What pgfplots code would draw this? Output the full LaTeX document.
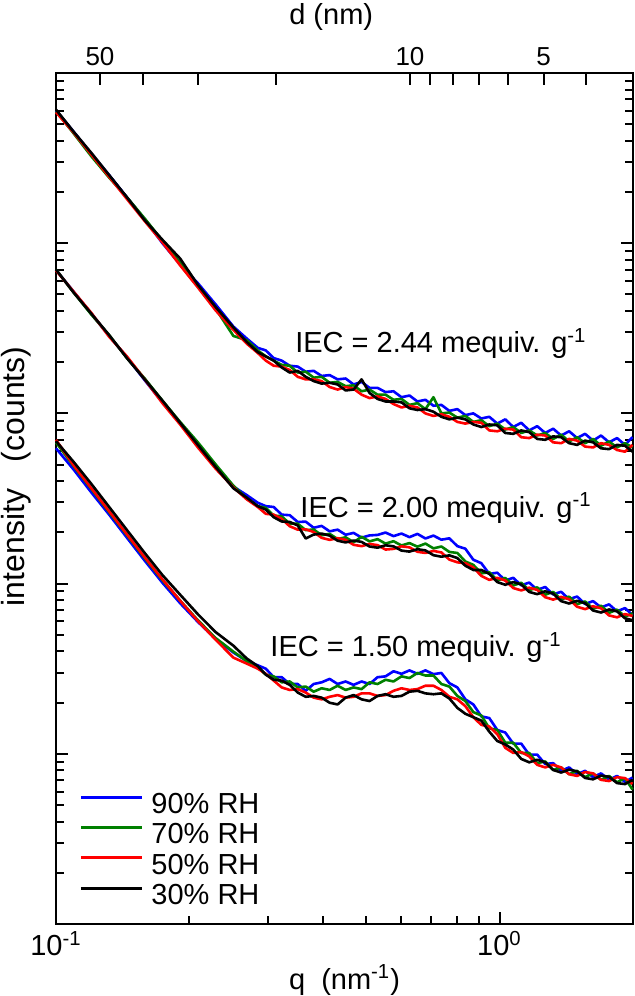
\documentclass[border=0pt]{standalone}
\usepackage{fontspec}
\setmainfont{Liberation Sans}
\usepackage{pgfplots}
\usepackage{pgfplotstable}
\pgfplotsset{compat=1.18}

\definecolor{cb}{RGB}{0,0,255}
\definecolor{cg}{RGB}{0,128,0}
\definecolor{cr}{RGB}{255,0,0}
\newcommand\lf{\fontsize{14.5}{17.4}\selectfont}

% columns: q (nm^-1), log10 intensity for 90/70/50/30 % RH
% IEC = 2.44
\pgfplotstableread{
q b g r k
0.1000 4.780 4.775 4.770 4.785
0.1096 4.655 4.645 4.650 4.655
0.1202 4.525 4.510 4.520 4.530
0.1318 4.400 4.385 4.390 4.400
0.1445 4.270 4.270 4.260 4.270
0.1585 4.140 4.145 4.130 4.135
0.1738 4.000 4.015 4.005 4.020
0.1905 3.875 3.885 3.870 3.910
0.2089 3.765 3.745 3.740 3.755
0.2291 3.640 3.615 3.605 3.625
0.2512 3.510 3.455 3.490 3.505
0.2692 3.440 3.430 3.410 3.420
0.2851 3.385 3.370 3.355 3.360
0.2972 3.370 3.335 3.310 3.335
0.3097 3.325 3.310 3.280 3.310
0.3228 3.310 3.285 3.275 3.270
0.3365 3.280 3.280 3.255 3.240
0.3508 3.275 3.240 3.215 3.250
0.3656 3.245 3.245 3.200 3.215
0.3811 3.250 3.210 3.200 3.190
0.3972 3.220 3.215 3.190 3.175
0.4140 3.225 3.180 3.155 3.180
0.4315 3.200 3.185 3.140 3.170
0.4498 3.205 3.160 3.155 3.135
0.4688 3.170 3.165 3.145 3.140
0.4887 3.185 3.130 3.110 3.200
0.5093 3.150 3.140 3.090 3.120
0.5309 3.150 3.110 3.100 3.085
0.5534 3.125 3.110 3.085 3.070
0.5768 3.130 3.080 3.055 3.070
0.6012 3.095 3.085 3.035 3.065
0.6266 3.105 3.050 3.045 3.030
0.6531 3.070 3.060 3.035 3.020
0.6808 3.080 3.025 3.000 3.025
0.7096 3.045 3.095 2.985 3.010
0.7396 3.050 3.000 2.995 2.980
0.7709 3.015 3.005 2.980 2.965
0.8035 3.025 2.975 2.950 2.975
0.8375 2.990 2.985 2.940 2.965
0.8730 3.000 2.950 2.950 2.935
0.9099 2.970 2.960 2.945 2.920
0.9484 2.980 2.925 2.900 2.935
0.9886 2.940 2.940 2.895 2.930
1.0304 2.965 2.905 2.910 2.885
1.0740 2.920 2.920 2.905 2.880
1.1194 2.945 2.885 2.860 2.900
1.1668 2.900 2.900 2.855 2.890
1.2162 2.925 2.870 2.875 2.850
1.2677 2.885 2.885 2.870 2.845
1.3213 2.910 2.850 2.830 2.865
1.3772 2.870 2.875 2.825 2.860
1.4355 2.895 2.835 2.850 2.825
1.4962 2.855 2.860 2.840 2.815
1.5596 2.880 2.825 2.805 2.840
1.6255 2.840 2.850 2.800 2.830
1.6943 2.870 2.810 2.825 2.795
1.7660 2.830 2.835 2.815 2.790
1.8408 2.855 2.800 2.785 2.815
1.9187 2.815 2.825 2.775 2.810
1.9953 2.860 2.800 2.815 2.775
}\tabA

% IEC = 2.00
\pgfplotstableread{
q b g r k
0.1000 3.843 3.845 3.840 3.845
0.1096 3.715 3.710 3.715 3.710
0.1202 3.585 3.580 3.590 3.585
0.1318 3.455 3.460 3.450 3.460
0.1445 3.330 3.325 3.335 3.325
0.1585 3.195 3.205 3.200 3.200
0.1738 3.065 3.075 3.060 3.075
0.1905 2.945 2.950 2.935 2.945
0.2089 2.815 2.830 2.800 2.815
0.2291 2.690 2.700 2.675 2.685
0.2512 2.570 2.575 2.565 2.560
0.2692 2.520 2.500 2.495 2.505
0.2851 2.475 2.455 2.450 2.455
0.2972 2.455 2.445 2.410 2.435
0.3097 2.450 2.400 2.405 2.390
0.3228 2.405 2.395 2.380 2.365
0.3365 2.402 2.352 2.337 2.362
0.3508 2.362 2.352 2.317 2.342
0.3656 2.364 2.314 2.319 2.265
0.3811 2.328 2.318 2.303 2.288
0.3972 2.339 2.284 2.269 2.294
0.4140 2.307 2.292 2.257 2.282
0.4315 2.317 2.262 2.267 2.252
0.4498 2.287 2.272 2.257 2.242
0.4688 2.298 2.243 2.228 2.253
0.4887 2.270 2.275 2.220 2.245
0.5093 2.283 2.248 2.233 2.218
0.5309 2.286 2.261 2.226 2.211
0.5534 2.300 2.235 2.200 2.225
0.5768 2.279 2.249 2.204 2.219
0.6012 2.294 2.224 2.219 2.194
0.6266 2.273 2.238 2.213 2.188
0.6531 2.292 2.217 2.187 2.202
0.6808 2.265 2.235 2.180 2.195
0.7096 2.282 2.207 2.192 2.167
0.7396 2.258 2.218 2.183 2.158
0.7709 2.266 2.186 2.141 2.166
0.8035 2.220 2.180 2.125 2.150
0.8375 2.205 2.130 2.120 2.105
0.8730 2.140 2.110 2.095 2.080
0.9099 2.120 2.060 2.045 2.080
0.9484 2.057 2.067 2.022 2.057
0.9886 2.064 2.019 2.034 2.009
1.0304 2.018 2.033 2.018 1.993
1.0740 2.034 1.989 1.974 2.009
1.1194 1.990 2.005 1.960 1.995
1.1668 2.006 1.961 1.976 1.951
1.2162 1.963 1.978 1.963 1.938
1.2677 1.980 1.935 1.920 1.955
1.3213 1.936 1.951 1.906 1.941
1.3772 1.952 1.907 1.922 1.897
1.4355 1.908 1.923 1.908 1.883
1.4962 1.924 1.879 1.864 1.899
1.5596 1.880 1.895 1.850 1.885
1.6255 1.897 1.852 1.867 1.842
1.6943 1.860 1.870 1.855 1.830
1.7660 1.878 1.828 1.813 1.848
1.8408 1.837 1.847 1.802 1.837
1.9187 1.856 1.806 1.821 1.796
1.9953 1.815 1.825 1.810 1.785
}\tabB

% IEC = 1.50
\pgfplotstableread{
q b g r k
0.1000 2.795 2.830 2.845 2.837
0.1096 2.670 2.690 2.695 2.715
0.1202 2.535 2.555 2.560 2.585
0.1318 2.405 2.420 2.425 2.450
0.1445 2.270 2.285 2.290 2.315
0.1585 2.135 2.150 2.155 2.180
0.1738 2.005 2.020 2.025 2.050
0.1905 1.885 1.900 1.900 1.935
0.2089 1.775 1.785 1.780 1.820
0.2291 1.675 1.680 1.670 1.715
0.2512 1.595 1.600 1.565 1.635
0.2692 1.545 1.545 1.530 1.560
0.2851 1.520 1.510 1.500 1.515
0.2972 1.500 1.465 1.470 1.465
0.3097 1.450 1.455 1.430 1.435
0.3228 1.450 1.420 1.390 1.430
0.3365 1.410 1.425 1.375 1.405
0.3508 1.410 1.390 1.380 1.360
0.3656 1.370 1.395 1.360 1.335
0.3811 1.410 1.365 1.330 1.340
0.3972 1.420 1.385 1.320 1.330
0.4140 1.440 1.375 1.335 1.300
0.4315 1.410 1.400 1.345 1.290
0.4498 1.425 1.375 1.330 1.330
0.4688 1.405 1.390 1.335 1.345
0.4887 1.425 1.380 1.355 1.320
0.5093 1.410 1.420 1.355 1.310
0.5309 1.450 1.410 1.340 1.340
0.5534 1.455 1.435 1.345 1.350
0.5768 1.485 1.425 1.370 1.335
0.6012 1.470 1.455 1.385 1.340
0.6266 1.490 1.445 1.375 1.365
0.6531 1.470 1.475 1.380 1.370
0.6808 1.490 1.460 1.400 1.355
0.7096 1.468 1.460 1.400 1.350
0.7396 1.475 1.410 1.375 1.355
0.7709 1.415 1.395 1.335 1.325
0.8035 1.390 1.340 1.320 1.270
0.8375 1.320 1.310 1.280 1.235
0.8730 1.290 1.245 1.215 1.215
0.9099 1.220 1.225 1.170 1.195
0.9484 1.210 1.150 1.160 1.130
0.9886 1.140 1.140 1.115 1.075
1.0304 1.125 1.065 1.035 1.055
1.0740 1.060 1.065 1.005 1.025
1.1194 1.060 1.005 1.010 0.970
1.1668 0.995 1.005 0.985 0.950
1.2162 0.995 0.945 0.935 0.965
1.2677 0.940 0.955 0.920 0.950
1.3213 0.945 0.905 0.935 0.905
1.3772 0.900 0.920 0.920 0.890
1.4355 0.920 0.880 0.880 0.907
1.4962 0.880 0.900 0.870 0.897
1.5596 0.900 0.863 0.893 0.858
1.6255 0.863 0.885 0.885 0.850
1.6943 0.885 0.847 0.847 0.872
1.7660 0.847 0.870 0.840 0.865
1.8408 0.870 0.833 0.863 0.828
1.9187 0.835 0.857 0.857 0.822
1.9953 0.860 0.790 0.823 0.847
}\tabC

\begin{document}
\begin{tikzpicture}
\begin{axis}[
  scale only axis, width=288.5pt, height=425.5pt,
  xmode=log, xmin=0.1, xmax=2.0, ymin=0, ymax=5,
  clip=false,
  axis line style={line width=1pt},
  every tick/.style={black, line width=1pt},
  tick align=inside,
  major tick length=6pt, minor tick length=4pt,
  xtick pos=bottom, ytick pos=both,
  xtick={0.1,1},
  xticklabels={10\textsuperscript{-1},10\textsuperscript{0}},
  minor xtick={0.2,0.3,0.4,0.5,0.6,0.7,0.8,0.9,2},
  ytick={0,1,2,3,4,5}, yticklabels={},
  minor ytick={0.301,0.477,0.602,0.699,0.778,0.845,0.903,0.954,
    1.301,1.477,1.602,1.699,1.778,1.845,1.903,1.954,
    2.301,2.477,2.602,2.699,2.778,2.845,2.903,2.954,
    3.301,3.477,3.602,3.699,3.778,3.845,3.903,3.954,
    4.301,4.477,4.602,4.699,4.778,4.845,4.903,4.954},
  tick label style={font=\lf},
  every axis plot/.append style={line width=1.3pt, line join=round},
  legend cell align=left,
  legend style={at={(0.04,0.154)}, anchor=north west, draw=none, fill=none,
    inner sep=0pt, row sep=3.5pt, column sep=4pt, font=\lf,
    nodes={inner sep=0pt}},
  legend image code/.code={\draw[#1, line width=1.5pt] (0pt,3.8pt) -- (30.5pt,3.8pt);},
]
\addplot[cb] table[x=q,y=b]{\tabA}; \addlegendentry{90\% RH}
\addplot[cg] table[x=q,y=g]{\tabA}; \addlegendentry{70\% RH}
\addplot[cr] table[x=q,y=r]{\tabA}; \addlegendentry{50\% RH}
\addplot[black] table[x=q,y=k]{\tabA}; \addlegendentry{30\% RH}
\addplot[cb, forget plot] table[x=q,y=b]{\tabB};
\addplot[cg, forget plot] table[x=q,y=g]{\tabB};
\addplot[cr, forget plot] table[x=q,y=r]{\tabB};
\addplot[black, forget plot] table[x=q,y=k]{\tabB};
\addplot[cb, forget plot] table[x=q,y=b]{\tabC};
\addplot[cg, forget plot] table[x=q,y=g]{\tabC};
\addplot[cr, forget plot] table[x=q,y=r]{\tabC};
\addplot[black, forget plot] table[x=q,y=k]{\tabC};

\node[anchor=base west, inner sep=0pt, font=\lf] at (rel axis cs:0.414,0.671) {IEC = 2.44 mequiv. g\textsuperscript{-1}};
\node[anchor=base west, inner sep=0pt, font=\lf] at (rel axis cs:0.423,0.478) {IEC = 2.00 mequiv. g\textsuperscript{-1}};
\node[anchor=base west, inner sep=0pt, font=\lf] at (rel axis cs:0.371,0.314) {IEC = 1.50 mequiv. g\textsuperscript{-1}};

\node[font=\fontsize{16}{19}\selectfont, rotate=90, yshift=20pt] at (rel axis cs:0,0.526) {intensity\ \ \ (counts)};
\node[font=\lf, yshift=-28pt] at (rel axis cs:0.5,0) {q\ \ (nm\textsuperscript{-1})};
\node[font=\lf, yshift=28pt] at (rel axis cs:0.477,1) {d (nm)};
\end{axis}

\begin{axis}[
  scale only axis, width=288.5pt, height=425.5pt,
  xmode=log, xmin=0.1, xmax=2.0, ymin=0, ymax=5,
  axis x line*=top, axis y line=none,
  axis line style={line width=1pt},
  every tick/.style={black, line width=1pt},
  tick align=inside, major tick length=6pt,
  xtick={0.12566,0.15708,0.20944,0.31416,0.62832,0.69813,0.78540,0.89760,1.04720,1.25664,1.57080},
  xticklabels={50,,,,10,,,,,5,},
  minor xtick={},
  tick label style={font=\fontsize{13}{15.6}\selectfont},
]
\end{axis}
\pgfresetboundingbox
\path (-28pt,-36pt) rectangle (289.5pt,462pt);
\end{tikzpicture}
\end{document}
